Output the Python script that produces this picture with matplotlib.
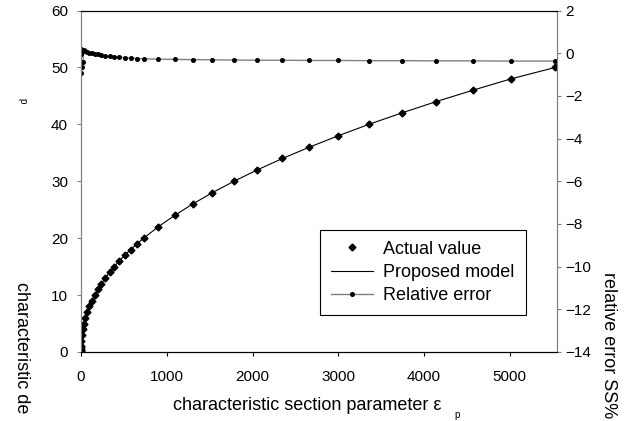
import matplotlib.pyplot as plt
from matplotlib.lines import Line2D

plt.rcParams['font.family'] = ['Liberation Sans', 'DejaVu Sans']

# actual values: section parameter vs characteristic depth
eps = [0, 0, 0, 0, 1, 4.6, 11, 21, 35, 52, 73, 97, 126, 159, 196, 238, 283, 333, 388,
       447, 511, 580, 653, 731, 901, 1092, 1302, 1533, 1784, 2056, 2349, 2664, 3001,
       3357, 3740, 4143, 4570, 5016, 5530]
depth = [0.2, 0.4, 0.6, 0.8, 1, 2, 3, 4, 5, 6, 7, 8, 9, 10, 11, 12, 13, 14, 15,
         16, 17, 18, 19, 20, 22, 24, 26, 28, 30, 32, 34, 36, 38,
         40, 42, 44, 46, 48, 50]

# relative error (right axis), same eps from index 4
err_eps = [0, 0, 0] + eps[4:]
rel_err = [0.1, 0.0, -0.05, 0.2, -0.93, -0.65, -0.4, 0.15, 0.1, 0.06, 0.03, 0.0, -0.03,
           -0.06, -0.1, -0.12, -0.15, -0.17, -0.19, -0.21, -0.23, -0.25, -0.26,
           -0.28, -0.29, -0.30, -0.31, -0.32, -0.33, -0.33, -0.34, -0.34, -0.35,
           -0.35, -0.36, -0.36, -0.37, -0.37]

fig = plt.figure(figsize=(6.38, 4.21), dpi=100)
ax = fig.add_axes([0.127, 0.164, 0.746, 0.811])
ax2 = ax.twinx()

ax.plot(eps, depth, color='black', lw=0.8, zorder=2)
ax.plot(eps, depth, ls='none', marker='D', ms=3.5, color='black', zorder=3)
ax2.plot(err_eps, rel_err, color='#808080', lw=1.0, marker='o', ms=2.6,
         mfc='black', mec='black')

ax.set_xlim(0, 5550)
ax.set_ylim(0, 60)
ax2.set_ylim(-14, 2)
ax.set_xticks([0, 1000, 2000, 3000, 4000, 5000])
ax.set_yticks(range(0, 61, 10))
ax2.set_yticks(range(-14, 3, 2))

for a in (ax, ax2):
    a.tick_params(labelsize=11, length=2.9, direction='out')
    a.spines['left'].set_color('#808080')
    a.spines['right'].set_color('#808080')
ax.tick_params(axis='x', pad=10)
ax.tick_params(axis='y', color='#808080', pad=6.5)
ax2.tick_params(axis='y', color='#808080', pad=3)

fig.text(0.271, 0.038, 'characteristic section parameter ε', fontsize=13,
         ha='left', va='center')
fig.text(0.717, 0.014, 'p', fontsize=7, ha='center', va='center')
# label is cut at the figure edge in the original
fig.text(0.02, 0.33, 'characteristic de', rotation=-90, fontsize=13,
         va='top', ha='left')
fig.text(0.035, 0.762, 'p', rotation=-90, fontsize=7, va='center', ha='center')
fig.text(0.941, 0.354, 'relative error SS%', rotation=-90, fontsize=13,
         va='top', ha='left')

handles = [Line2D([], [], ls='none', marker='D', ms=3.5, color='black'),
           Line2D([], [], color='black', lw=0.8),
           Line2D([], [], color='#808080', lw=1.0, marker='o', ms=2.6,
                  mfc='black', mec='black')]
leg = ax2.legend(handles, ['Actual value', 'Proposed model', 'Relative error'],
                 loc='lower right', bbox_to_anchor=(0.934, 0.108), fontsize=13,
                 frameon=True, fancybox=False, framealpha=1, edgecolor='black',
                 handlelength=2.3, handletextpad=0.6, borderpad=0.6,
                 labelspacing=0.35, borderaxespad=0)
leg.get_frame().set_linewidth(0.8)

fig.savefig('out.png', dpi=100)
